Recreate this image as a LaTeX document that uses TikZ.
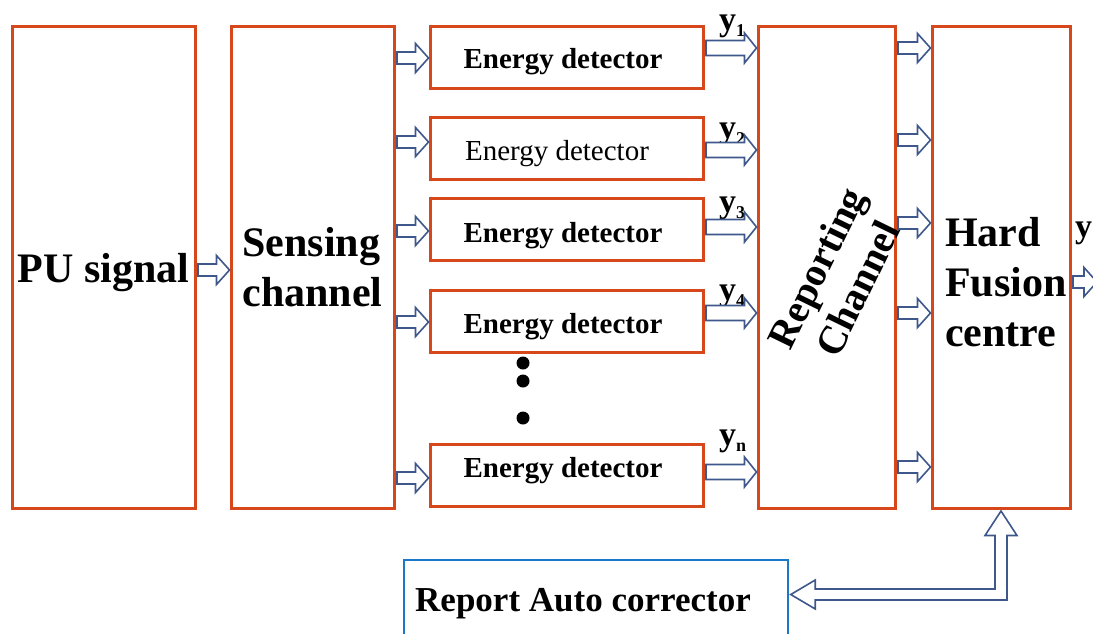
\documentclass[tikz,border=0pt]{standalone}
\usepackage{fontspec}
\setmainfont{Liberation Serif}
\usetikzlibrary{calc}
\definecolor{boxc}{RGB}{214,72,28}
\definecolor{arrc}{RGB}{62,88,140}
\definecolor{bluec}{RGB}{25,120,200}
\newcommand\ysub[1]{\raisebox{-0.2em}{\fontsize{18}{18}\selectfont #1}}
\begin{document}
\begin{tikzpicture}[x=1pt,y=-1pt,
  box/.style={draw=boxc, line width=3pt, inner sep=0pt},
  tallbox/.style={box, minimum height=482pt},
  edbox/.style={box, minimum width=273pt, minimum height=62pt},
  bigtxt/.style={font=\fontsize{42}{50}\selectfont\bfseries},
  edtxt/.style={font=\fontsize{29}{34}\selectfont\bfseries, inner sep=0pt, anchor=base},
  lab/.style={font=\fontsize{34}{36}\selectfont\bfseries, inner sep=0pt, anchor=base west},
  dotnode/.style={circle, fill=black, inner sep=0pt, minimum size=13pt},
  barrow/.style={draw=arrc, line width=1.6pt, fill=white, line join=miter,
    to path={let \p1=(\tikztostart), \p2=(\tikztotarget) in
      (\x1+1.5pt,\y1+6pt) -- (\x2-13pt,\y1+6pt) -- (\x2-13pt,\y1+14.5pt) -- (\x2,\y1)
      -- (\x2-13pt,\y1-14.5pt) -- (\x2-13pt,\y1-6pt) -- (\x1+1.5pt,\y1-6pt) -- cycle}},
  warrow/.style={draw=arrc, line width=1.6pt, fill=white, line join=miter,
    to path={let \p1=(\tikztostart), \p2=(\tikztotarget) in
      (\x1+1.5pt,\y1+7.5pt) -- (\x2-12pt,\y1+7.5pt) -- (\x2-12pt,\y1+15pt) -- (\x2,\y1)
      -- (\x2-12pt,\y1-15pt) -- (\x2-12pt,\y1-7.5pt) -- (\x1+1.5pt,\y1-7.5pt) -- cycle}}]
\clip (0,0) rectangle (1093,633);
\fill[white] (0,0) rectangle (1093,633);

% boxes
\node[tallbox, minimum width=183pt] (pu) at (103.5,267) {};
\node[bigtxt, inner sep=0pt, anchor=base] (putxt) at (103.5,282) {PU signal};
\node[tallbox, minimum width=163pt, bigtxt, align=left] (sen) at (312.5,267) {Sensing\\channel};
\node[edbox] (ed1) at (566.5,57) {};
\node[edbox] (ed2) at (566.5,148.5) {};
\node[edbox] (ed3) at (566.5,229) {};
\node[edbox] (ed4) at (566.5,321) {};
\node[edbox] (edn) at (566.5,475.5) {};
\node[edtxt] (ed1txt) at (563,68) {Energy detector};
\node[edtxt, font=\fontsize{29}{34}\selectfont] (ed2txt) at (557,160) {Energy detector};
\node[edtxt] (ed3txt) at (563,242) {Energy detector};
\node[edtxt] (ed4txt) at (563,333) {Energy detector};
\node[edtxt] (edntxt) at (563,477) {Energy detector};
\node[tallbox, minimum width=137pt] (rep) at (826.5,267) {};
\node[font=\fontsize{40}{46}\selectfont\bfseries, rotate=64, align=center] (reptxt) at (837,278) {Reporting\\Channel};
\node[tallbox, minimum width=138pt] (fus) at (1001,267) {};
\node[bigtxt, align=left] (fustxt) at (1006,282) {Hard\\Fusion\\centre};
\node[draw=bluec, line width=2.5pt, inner sep=0pt, minimum width=384pt, minimum height=80pt] (cor) at (596,600) {};
\node[font=\fontsize{35}{40}\selectfont\bfseries, inner sep=0pt, anchor=base west] (cortxt) at (415,611) {Report Auto corrector};

% dots
\node[dotnode] (dot1) at (523,363) {};
\node[dotnode] (dot2) at (523,381) {};
\node[dotnode] (dot3) at (523,418) {};

% labels
\node[lab] (y1) at (719,30) {y\ysub{1}};
\node[lab] (y2) at (719,138) {y\ysub{2}};
\node[lab] (y3) at (719,212) {y\ysub{3}};
\node[lab] (y4) at (719,300) {y\ysub{4}};
\node[lab] (yn) at (719,445) {y\ysub{n}};
\node[lab] (yout) at (1075,237) {y};

% arrows
\draw[barrow] (pu.east |- 0,270) to (sen.west |- 0,270);
\draw[barrow] (sen.east |- 0,58) to (ed1.west |- 0,58);
\draw[barrow] (sen.east |- 0,142) to (ed2.west |- 0,142);
\draw[barrow] (sen.east |- 0,231) to (ed3.west |- 0,231);
\draw[barrow] (sen.east |- 0,322) to (ed4.west |- 0,322);
\draw[barrow] (sen.east |- 0,478) to (edn.west |- 0,478);
\draw[warrow] (ed1.east |- 0,48) to (rep.west |- 0,48);
\draw[warrow] (ed2.east |- 0,150) to (rep.west |- 0,150);
\draw[warrow] (ed3.east |- 0,227) to (rep.west |- 0,227);
\draw[warrow] (ed4.east |- 0,313) to (rep.west |- 0,313);
\draw[warrow] (edn.east |- 0,472) to (rep.west |- 0,472);
\draw[barrow] (rep.east |- 0,48) to (fus.west |- 0,48);
\draw[barrow] (rep.east |- 0,140) to (fus.west |- 0,140);
\draw[barrow] (rep.east |- 0,223) to (fus.west |- 0,223);
\draw[barrow] (rep.east |- 0,313) to (fus.west |- 0,313);
\draw[barrow] (rep.east |- 0,467) to (fus.west |- 0,467);
\coordinate (outend) at (1097,282);
\draw[barrow] (fus.east |- outend) to (outend);

% bent double arrow between fusion centre and auto corrector
\draw[draw=arrc, line width=1.6pt, fill=white, line join=miter]
  let \p1=(fus.south), \p2=([yshift=5.5pt]cor.east) in
  (\x1,\y1-1.5pt) -- (\x1+16pt,\y1-26pt) -- (\x1+6pt,\y1-26pt) -- (\x1+6pt,\y2-5.5pt)
  -- (\x2+26pt,\y2-5.5pt) -- (\x2+26pt,\y2-14.5pt) -- (\x2+1.5pt,\y2)
  -- (\x2+26pt,\y2+14.5pt) -- (\x2+26pt,\y2+5.5pt) -- (\x1-6pt,\y2+5.5pt)
  -- (\x1-6pt,\y1-26pt) -- (\x1-16pt,\y1-26pt) -- cycle;
\end{tikzpicture}
\end{document}
